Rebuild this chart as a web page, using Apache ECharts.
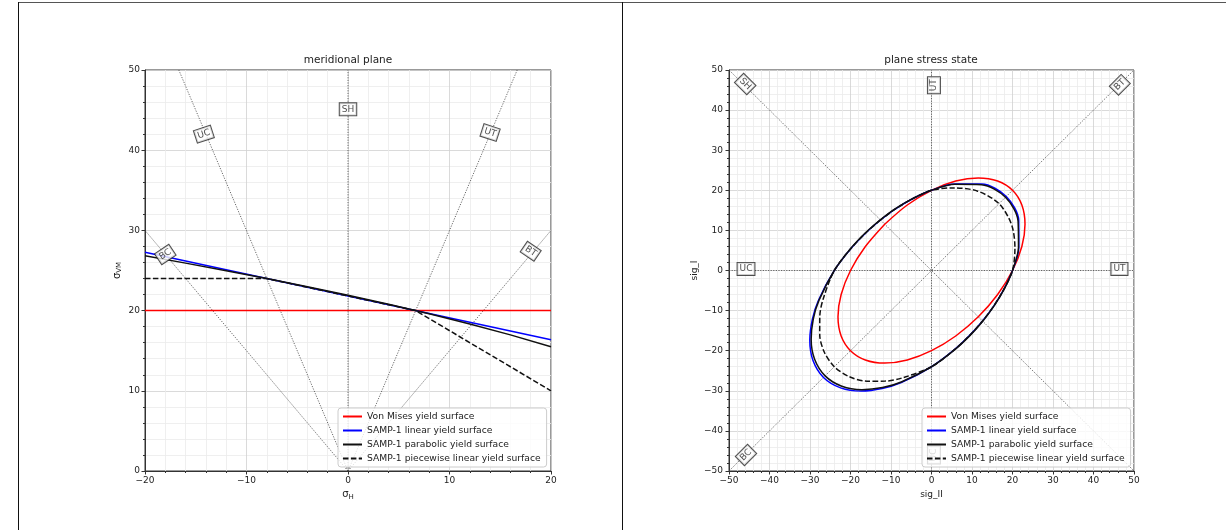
<!DOCTYPE html>
<html>
<head>
<meta charset="utf-8">
<script src="https://cdn.jsdelivr.net/npm/echarts@6/dist/echarts.min.js"></script>
<style>
html,body{margin:0;padding:0;background:#fff;}
#chart{width:1226px;height:530px;}
</style>
</head>
<body>
<div id="chart"></div>
<script>
// ---------------- DATA ----------------
const seriesNames = [
  'Von Mises yield surface',
  'SAMP-1 linear yield surface',
  'SAMP-1 parabolic yield surface',
  'SAMP-1 piecewise linear yield surface'
];

// meridional plane (sigma_H, sigma_VM)
const merVonMises = [[-20, 20], [20, 20]];
const merLinear = [[-20, 27.27], [20, 16.36]];
const merParabolic = [[-20, 26.83], [-16, 25.92], [-12, 24.98], [-8, 24.0], [-4, 22.98], [0, 21.91],
  [4, 20.78], [8, 19.60], [12, 18.33], [16, 16.97], [20, 15.49]];
const merPiecewise = [[-20, 24], [-8, 24], [6.67, 20], [20, 10]];

const merRefUC = [[0, 0], [-16.67, 50]];
const merRefUT = [[0, 0], [16.67, 50]];
const merRefBC = [[0, 0], [-20, 30]];
const merRefBT = [[0, 0], [20, 30]];
const merRefSH = [[0, 0], [0, 50]];

const merLabelNames = ['UC', 'UT', 'SH', 'BC', 'BT'];
const merLabelPos = [[-14.2, 42], [14.0, 42.2], [0, 45.1], [-18, 27], [18, 27.4]];

// plane stress state (sig_II, sig_I)
const psVonMises = [[-11.55, 11.55], [-16.33, 5.98], [-20, 0], [-22.31, -5.98], [-23.09, -11.55], [-22.31, -16.33],
  [-20, -20], [-16.33, -22.31], [-11.55, -23.09], [-5.98, -22.31], [0, -20], [5.98, -16.33], [11.55, -11.55],
  [16.33, -5.98], [20, 0], [22.31, 5.98], [23.09, 11.55], [22.31, 16.33], [20, 20], [16.33, 22.31],
  [11.55, 23.09], [5.98, 22.31], [0, 20], [-5.98, 16.33], [-11.55, 11.55]];
const psLinear = [[-12.60, 12.60], [-16.24, 9.37], [-20.00, 5.36], [-24.00, 0], [-27.93, -7.48], [-29.42, -12.19],
  [-30.05, -17.35], [-29.26, -22.45], [-26.67, -26.67], [-22.45, -29.26], [-17.35, -30.05], [-12.19, -29.42],
  [-7.48, -27.93], [0, -24], [5.36, -20.00], [9.37, -16.24], [12.60, -12.60], [15.36, -8.87], [17.83, -4.78],
  [20, 0], [21.56, 5.78], [21.54, 12.44], [18.46, 18.46], [12.44, 21.54], [5.78, 21.56], [0, 20],
  [-4.78, 17.83], [-8.87, 15.36], [-12.60, 12.60]];
const psParabolic = [[-12.65, 12.65], [-16.30, 9.41], [-20.05, 5.37], [-24, 0], [-27.79, -7.45], [-29.19, -12.09],
  [-29.71, -17.16], [-28.86, -22.14], [-26.27, -26.27], [-22.14, -28.86], [-17.16, -29.71], [-12.09, -29.19],
  [-7.45, -27.79], [0, -24], [5.37, -20.05], [9.41, -16.30], [12.65, -12.65], [15.41, -8.90], [17.87, -4.79],
  [20, 0], [21.48, 5.76], [21.37, 12.34], [18.27, 18.27], [12.34, 21.37], [5.76, 21.48], [0, 20],
  [-4.79, 17.87], [-8.90, 15.41], [-12.65, 12.65]];
const psPiecewise = [[-12.60, 12.60], [-16.24, 9.37], [-20.00, 5.36], [-24, 0], [-26.77, -7.17], [-27.58, -11.42],
  [-27.60, -15.94], [-26.48, -20.32], [-24, -24], [-20.32, -26.48], [-15.94, -27.60], [-11.42, -27.58],
  [-7.17, -26.77], [0, -24], [5.36, -20.00], [9.37, -16.24], [12.60, -12.60], [15.36, -8.87], [17.83, -4.78],
  [20, 0], [20.60, 5.52], [19.78, 11.42], [16.67, 16.67], [11.42, 19.78], [5.52, 20.60], [0, 20],
  [-4.78, 17.83], [-8.87, 15.36], [-12.60, 12.60]];

const psRefDiagUp = [[-50, -50], [50, 50]];
const psRefDiagDown = [[-50, 50], [50, -50]];
const psRefHoriz = [[-50, 0], [50, 0]];
const psRefVert = [[0, -50], [0, 50]];

const psLabelNames = ['SH', 'UT', 'BT', 'UC', 'UT', 'BC', 'UC'];
const psLabelPos = [[-46, 46.5], [0.6, 46.2], [46.5, 46.3], [-45.8, 0.4], [46.4, 0.4], [-45.8, -46], [0.6, -46]];

// ---------------- STYLES ----------------
const merLabelRot = [18, -18, 0, 34, -34];
const psLabelRot = [-45, 90, 45, 0, 0, 45, 90];
const FONT = 'DejaVu Sans';
const minus = v => String(v).replace('-', '\u2212');

function axisCommon(min, max, name, nameGap, extra) {
  return Object.assign({
    type: 'value', min: min, max: max, interval: 10,
    name: name, nameLocation: 'middle', nameGap: nameGap,
    nameTextStyle: { fontFamily: FONT, fontSize: 9, color: '#222' },
    axisLine: { show: true, onZero: false, lineStyle: { color: '#333', width: 1 } },
    axisTick: { show: true, length: 3.5, lineStyle: { color: '#333' } },
    minorTick: { show: true, splitNumber: 5, length: 2, lineStyle: { color: '#333' } },
    splitLine: { show: true, lineStyle: { color: '#d0d0d0', width: 0.8 } },
    minorSplitLine: { show: true, lineStyle: { color: '#ebebeb', width: 0.8 } },
    axisLabel: { fontFamily: FONT, fontSize: 9, color: '#222', formatter: minus, margin: 5 }
  }, extra || {});
}

const refStyle = { color: '#444', width: 0.8, type: [1.2, 1.4] };
function refLine(data, gi) {
  return { type: 'line', xAxisIndex: gi, yAxisIndex: gi, data: data, symbol: 'none', silent: true,
    lineStyle: refStyle, z: 1, animation: false };
}
function labelSeries(names, pos, rots, gi) {
  return { type: 'scatter', xAxisIndex: gi, yAxisIndex: gi, symbolSize: 0, silent: true, z: 3, animation: false,
    data: names.map((n, i) => ({ name: n, value: pos[i], label: { rotate: rots[i] } })),
    label: { show: true, position: 'inside', formatter: '{b}', fontFamily: FONT, fontSize: 9, color: '#222',
      backgroundColor: '#fff', borderColor: '#222', borderWidth: 1, padding: [2, 2, 1, 2] } };
}
const curveStyles = [
  { color: '#ff0000', width: 1.5, type: 'solid' },
  { color: '#0000ff', width: 1.5, type: 'solid' },
  { color: '#111111', width: 1.5, type: 'solid' },
  { color: '#111111', width: 1.5, type: [5.5, 2.4] }
];
function curve(idx, data, gi, smooth) {
  return { type: 'line', name: seriesNames[idx], xAxisIndex: gi, yAxisIndex: gi, data: data, symbol: 'none',
    smooth: smooth, lineStyle: curveStyles[idx], itemStyle: { color: curveStyles[idx].color }, z: 2, animation: false };
}
function legendAt(left) {
  return { data: seriesNames, orient: 'vertical', left: left, top: 408, z: 10,
    itemWidth: 19, itemHeight: 10, itemGap: 5, padding: [4, 6, 4, 4],
    itemStyle: { opacity: 0, borderWidth: 0 },
    backgroundColor: 'rgba(255,255,255,0.8)', borderColor: '#cccccc', borderWidth: 1, borderRadius: 3,
    textStyle: { fontFamily: FONT, fontSize: 9.2, color: '#222' }, selectedMode: false };
}

const subRich = {
  s: { fontFamily: FONT, fontSize: 10, color: '#222' },
  sub: { fontFamily: FONT, fontSize: 7, color: '#222', padding: [5, 0, 0, 0] }
};
const chart = echarts.init(document.getElementById('chart'), null, { renderer: 'canvas' });
chart.setOption({
  animation: false,
  backgroundColor: '#fff',
  grid: [
    { left: 145, top: 70, width: 406, height: 401, show: true, borderColor: '#333', borderWidth: 1 },
    { left: 729, top: 70, width: 405, height: 401, show: true, borderColor: '#333', borderWidth: 1 }
  ],
  xAxis: [
    axisCommon(-20, 20, '{s|σ}{sub|H}', 17, { gridIndex: 0, nameTextStyle: { rich: subRich } }),
    axisCommon(-50, 50, 'sig_II', 18, { gridIndex: 1 })
  ],
  yAxis: [
    axisCommon(0, 50, '{s|σ}{sub|VM}', 22, { gridIndex: 0, nameTextStyle: { rich: subRich } }),
    axisCommon(-50, 50, 'sig_I', 30, { gridIndex: 1, axisLabel: { fontFamily: FONT, fontSize: 9, color: '#222', formatter: minus, margin: 6 } })
  ],
  legend: [legendAt(338), legendAt(922)],
  graphic: [
    { type: 'line', shape: { x1: 18, y1: 2.5, x2: 1226, y2: 2.5 }, style: { stroke: '#555', lineWidth: 1 }, silent: true },
    { type: 'line', shape: { x1: 18.5, y1: 2, x2: 18.5, y2: 530 }, style: { stroke: '#111', lineWidth: 1 }, silent: true },
    { type: 'line', shape: { x1: 622.5, y1: 2, x2: 622.5, y2: 530 }, style: { stroke: '#111', lineWidth: 1 }, silent: true },
    { type: 'text', x: 348, y: 60, style: { text: 'meridional plane', fontFamily: FONT, fontSize: 10.5, fill: '#222', textAlign: 'center', textVerticalAlign: 'middle' }, silent: true },
    { type: 'text', x: 931, y: 60, style: { text: 'plane stress state', fontFamily: FONT, fontSize: 10.5, fill: '#222', textAlign: 'center', textVerticalAlign: 'middle' }, silent: true }
  ],
  series: [
    refLine(merRefUC, 0), refLine(merRefUT, 0), refLine(merRefBC, 0), refLine(merRefBT, 0), refLine(merRefSH, 0),
    curve(0, merVonMises, 0, false), curve(1, merLinear, 0, false), curve(2, merParabolic, 0, false), curve(3, merPiecewise, 0, false),
    labelSeries(merLabelNames, merLabelPos, merLabelRot, 0),
    refLine(psRefDiagUp, 1), refLine(psRefDiagDown, 1), refLine(psRefHoriz, 1), refLine(psRefVert, 1),
    curve(0, psVonMises, 1, 0.3), curve(1, psLinear, 1, 0.3), curve(2, psParabolic, 1, 0.3), curve(3, psPiecewise, 1, 0.3),
    labelSeries(psLabelNames, psLabelPos, psLabelRot, 1)
  ]
});
</script>
</body>
</html>
